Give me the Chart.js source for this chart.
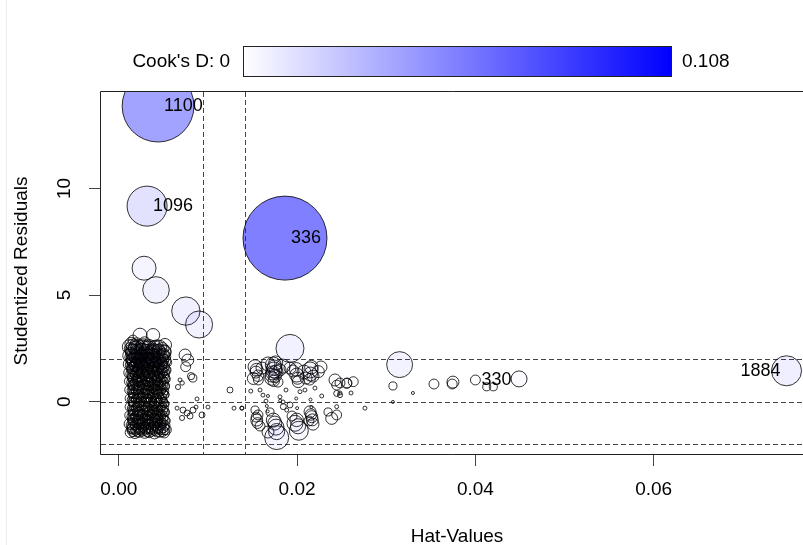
<!DOCTYPE html>
<html>
<head>
<meta charset="utf-8">
<script src="https://cdn.jsdelivr.net/npm/chart.js@4.4.1/dist/chart.umd.min.js"></script>
<style>
  html, body { margin: 0; padding: 0; background: #fff; overflow: hidden; }
</style>
</head>
<body>
<canvas id="influence" width="803" height="545"></canvas>
<script>
// Puntos: [hat value, studentized residual, Cook's D]
const labelIds = ['1100', '1096', '336', '330', '1884'];
const labelPoints = [
    [0.0044, 13.86, 0.079], [0.00317, 9.17, 0.0245], [0.01864, 7.67, 0.108],
    [0.0400, 1.02, 0.0015], [0.0749, 1.45, 0.0138]
];
const bigPoints = [
    [0.00283, 6.26, 0.0088], [0.00417, 5.24, 0.0108], [0.00752, 4.25, 0.0123], [0.0090, 3.62, 0.0112],
    [0.0192, 2.50, 0.0120], [0.0315, 1.74, 0.0103], [0.0449, 1.07, 0.0039],
    [0.01771, -1.68, 0.0088], [0.02019, -1.36, 0.0055]
];
const leftCluster = [
    [0.00159, 2.89, 0.0015], [0.00238, 3.12, 0.0030], [0.00384, 3.12, 0.0027], [0.00518, 2.66, 0.0026],
    [0.0014, 2.72, 0.0025], [0.0020, 2.68, 0.0028], [0.0029, 2.75, 0.0024], [0.0043, 2.62, 0.0022],
    [0.0013, 2.48, 0.0023], [0.0018, 2.53, 0.0025], [0.0025, 2.45, 0.0024], [0.0032, 2.55, 0.0022], [0.0041, 2.41, 0.0025], [0.0049, 2.50, 0.0021],
    [0.0014, 2.28, 0.0021], [0.0019, 2.33, 0.0022], [0.0024, 2.25, 0.0023], [0.0030, 2.31, 0.0021], [0.0036, 2.27, 0.0024], [0.0042, 2.35, 0.0020], [0.0050, 2.22, 0.0023],
    [0.0013, 2.08, 0.0019], [0.0018, 2.12, 0.0021], [0.0023, 2.05, 0.0020], [0.0029, 2.14, 0.0020], [0.0034, 2.03, 0.0021], [0.0040, 2.10, 0.0022], [0.0046, 2.07, 0.0020], [0.0052, 2.12, 0.0019],
    [0.0014, 1.91, 0.0017], [0.0019, 1.86, 0.0018], [0.0025, 1.93, 0.0019], [0.0030, 1.88, 0.0017], [0.0036, 1.95, 0.0020], [0.0041, 1.87, 0.0018], [0.0047, 1.92, 0.0018], [0.0053, 1.85, 0.0019],
    [0.0013, 1.72, 0.0016], [0.0017, 1.67, 0.0017], [0.0023, 1.74, 0.0016], [0.0028, 1.69, 0.0018], [0.0034, 1.71, 0.0017], [0.0039, 1.66, 0.0018], [0.0045, 1.73, 0.0016], [0.0051, 1.68, 0.0017],
    [0.0014, 1.52, 0.0014], [0.0020, 1.47, 0.0015], [0.0025, 1.54, 0.0014], [0.0031, 1.49, 0.0016], [0.0037, 1.51, 0.0015], [0.0042, 1.45, 0.0014], [0.0048, 1.53, 0.0016], [0.0053, 1.48, 0.0015],
    [0.0013, 1.31, 0.0013], [0.0018, 1.27, 0.0013], [0.0024, 1.33, 0.0012], [0.0029, 1.28, 0.0014], [0.0035, 1.32, 0.0013], [0.0040, 1.26, 0.0012], [0.0046, 1.30, 0.0014], [0.0052, 1.34, 0.0013],
    [0.0014, 1.12, 0.0011], [0.0019, 1.07, 0.0012], [0.0025, 1.10, 0.0011], [0.0030, 1.05, 0.0012], [0.0036, 1.13, 0.0012], [0.0042, 1.08, 0.0011], [0.0047, 1.11, 0.0012], [0.0053, 1.06, 0.0011],
    [0.0013, 0.91, 0.0009], [0.0017, 0.87, 0.0010], [0.0023, 0.93, 0.0009], [0.0028, 0.88, 0.0010], [0.0034, 0.92, 0.0010], [0.0039, 0.86, 0.0009], [0.0045, 0.90, 0.0010], [0.0051, 0.94, 0.0011],
    [0.0014, 0.71, 0.0008], [0.0020, 0.67, 0.0008], [0.0025, 0.73, 0.0009], [0.0031, 0.68, 0.0008], [0.0037, 0.72, 0.0009], [0.0042, 0.66, 0.0008], [0.0048, 0.70, 0.0009], [0.0053, 0.74, 0.0008],
    [0.0013, 0.52, 0.0007], [0.0018, 0.47, 0.0007], [0.0024, 0.53, 0.0007], [0.0029, 0.48, 0.0007], [0.0035, 0.51, 0.0008], [0.0040, 0.46, 0.0007], [0.0046, 0.54, 0.0007], [0.0052, 0.49, 0.0008],
    [0.0014, 0.31, 0.0006], [0.0019, 0.27, 0.0006], [0.0025, 0.33, 0.0006], [0.0030, 0.28, 0.0006], [0.0036, 0.32, 0.0006], [0.0041, 0.26, 0.0006], [0.0047, 0.30, 0.0006], [0.0053, 0.34, 0.0006],
    [0.0013, 0.11, 0.0006], [0.0017, 0.07, 0.0005], [0.0023, 0.12, 0.0006], [0.0028, 0.08, 0.0005], [0.0034, 0.13, 0.0006], [0.0039, 0.09, 0.0005], [0.0045, 0.10, 0.0006], [0.0051, 0.06, 0.0005],
    [0.0014, -0.09, 0.0005], [0.0020, -0.13, 0.0006], [0.0025, -0.08, 0.0005], [0.0031, -0.12, 0.0006], [0.0037, -0.10, 0.0005], [0.0042, -0.14, 0.0006], [0.0048, -0.07, 0.0005], [0.0053, -0.11, 0.0006],
    [0.0013, -0.29, 0.0006], [0.0018, -0.33, 0.0006], [0.0024, -0.28, 0.0006], [0.0029, -0.32, 0.0007], [0.0035, -0.27, 0.0006], [0.0040, -0.34, 0.0007], [0.0046, -0.30, 0.0006], [0.0052, -0.31, 0.0007],
    [0.0014, -0.51, 0.0007], [0.0019, -0.47, 0.0007], [0.0025, -0.53, 0.0008], [0.0030, -0.48, 0.0007], [0.0036, -0.52, 0.0008], [0.0041, -0.46, 0.0007], [0.0047, -0.54, 0.0008], [0.0053, -0.49, 0.0008],
    [0.0013, -0.69, 0.0008], [0.0017, -0.73, 0.0009], [0.0023, -0.68, 0.0008], [0.0028, -0.72, 0.0009], [0.0034, -0.67, 0.0008], [0.0039, -0.74, 0.0009], [0.0045, -0.70, 0.0009], [0.0051, -0.71, 0.0010],
    [0.0014, -0.91, 0.0009], [0.0020, -0.87, 0.0010], [0.0025, -0.93, 0.0010], [0.0031, -0.88, 0.0010], [0.0037, -0.92, 0.0011], [0.0042, -0.86, 0.0010], [0.0048, -0.94, 0.0011], [0.0053, -0.89, 0.0011],
    [0.0013, -1.09, 0.0011], [0.0018, -1.13, 0.0012], [0.0024, -1.08, 0.0012], [0.0029, -1.12, 0.0013], [0.0035, -1.07, 0.0012], [0.0040, -1.14, 0.0013], [0.0046, -1.10, 0.0013], [0.0052, -1.11, 0.0014],
    [0.0014, -1.29, 0.0014], [0.0019, -1.33, 0.0015], [0.0025, -1.28, 0.0015], [0.0030, -1.32, 0.0016], [0.0036, -1.27, 0.0015], [0.0041, -1.34, 0.0016], [0.0047, -1.30, 0.0016], [0.0053, -1.31, 0.0017],
    [0.0013, -1.44, 0.0017], [0.0018, -1.47, 0.0018], [0.0023, -1.42, 0.0017], [0.0029, -1.46, 0.0018], [0.0034, -1.43, 0.0018], [0.0040, -1.48, 0.0019], [0.0046, -1.41, 0.0018], [0.0051, -1.45, 0.0017]
];
const leftClusterB = [
    [0.0016, 2.61, 0.0030], [0.0022, 2.58, 0.0031], [0.0027, 2.63, 0.0029], [0.0034, 2.59, 0.0030], [0.0046, 2.56, 0.0028],
    [0.0015, 2.41, 0.0028], [0.0021, 2.38, 0.0029], [0.0027, 2.43, 0.0027], [0.0033, 2.37, 0.0028], [0.0038, 2.42, 0.0029], [0.0045, 2.39, 0.0027], [0.0051, 2.36, 0.0028],
    [0.0016, 2.19, 0.0026], [0.0021, 2.23, 0.0027], [0.0026, 2.17, 0.0025], [0.0032, 2.21, 0.0026], [0.0038, 2.18, 0.0027], [0.0044, 2.22, 0.0025], [0.0049, 2.16, 0.0026],
    [0.0015, 1.99, 0.0024], [0.0021, 2.02, 0.0025], [0.0027, 1.97, 0.0023], [0.0032, 2.01, 0.0024], [0.0038, 1.98, 0.0025], [0.0043, 2.03, 0.0023], [0.0049, 1.96, 0.0024],
    [0.0016, 1.81, 0.0022], [0.0021, 1.78, 0.0023], [0.0026, 1.82, 0.0021], [0.0031, 1.79, 0.0022], [0.0037, 1.83, 0.0023], [0.0042, 1.77, 0.0021], [0.0048, 1.80, 0.0022],
    [0.0015, 1.61, 0.0020], [0.0022, 1.58, 0.0021], [0.0028, 1.62, 0.0019], [0.0033, 1.57, 0.0020], [0.0039, 1.63, 0.0021], [0.0044, 1.59, 0.0019], [0.0050, 1.61, 0.0020],
    [0.0016, 1.41, 0.0018], [0.0021, 1.38, 0.0019], [0.0027, 1.42, 0.0017], [0.0032, 1.37, 0.0018], [0.0038, 1.43, 0.0019], [0.0043, 1.39, 0.0017], [0.0049, 1.40, 0.0018],
    [0.0015, 1.21, 0.0016], [0.0022, 1.18, 0.0017], [0.0028, 1.22, 0.0015], [0.0033, 1.17, 0.0016], [0.0039, 1.23, 0.0017], [0.0044, 1.19, 0.0015], [0.0050, 1.20, 0.0016],
    [0.0016, 1.01, 0.0014], [0.0021, 0.98, 0.0015], [0.0026, 1.02, 0.0014], [0.0032, 0.97, 0.0014], [0.0037, 1.03, 0.0015], [0.0043, 0.99, 0.0013], [0.0049, 1.00, 0.0014],
    [0.0015, 0.81, 0.0013], [0.0022, 0.78, 0.0013], [0.0027, 0.82, 0.0012], [0.0033, 0.77, 0.0013], [0.0038, 0.83, 0.0014], [0.0044, 0.79, 0.0012], [0.0050, 0.80, 0.0013],
    [0.0016, 0.61, 0.0012], [0.0021, 0.58, 0.0012], [0.0027, 0.62, 0.0011], [0.0032, 0.57, 0.0012], [0.0038, 0.63, 0.0012], [0.0043, 0.59, 0.0011], [0.0049, 0.60, 0.0012],
    [0.0015, 0.41, 0.0011], [0.0022, 0.38, 0.0011], [0.0028, 0.42, 0.0010], [0.0033, 0.37, 0.0011], [0.0039, 0.43, 0.0011], [0.0044, 0.39, 0.0010], [0.0050, 0.40, 0.0011],
    [0.0016, 0.21, 0.0010], [0.0021, 0.18, 0.0010], [0.0026, 0.22, 0.0010], [0.0032, 0.17, 0.0010], [0.0037, 0.23, 0.0010], [0.0043, 0.19, 0.0009], [0.0049, 0.20, 0.0010],
    [0.0015, 0.01, 0.0010], [0.0022, -0.02, 0.0010], [0.0027, 0.02, 0.0009], [0.0033, -0.03, 0.0010], [0.0038, 0.03, 0.0010], [0.0044, -0.01, 0.0009], [0.0050, 0.00, 0.0010],
    [0.0016, -0.19, 0.0010], [0.0021, -0.22, 0.0010], [0.0027, -0.18, 0.0010], [0.0032, -0.23, 0.0010], [0.0038, -0.17, 0.0010], [0.0043, -0.21, 0.0009], [0.0049, -0.20, 0.0010],
    [0.0015, -0.39, 0.0011], [0.0022, -0.42, 0.0011], [0.0028, -0.38, 0.0010], [0.0033, -0.43, 0.0011], [0.0039, -0.37, 0.0011], [0.0044, -0.41, 0.0010], [0.0050, -0.40, 0.0011],
    [0.0016, -0.59, 0.0012], [0.0021, -0.62, 0.0012], [0.0026, -0.58, 0.0011], [0.0032, -0.63, 0.0012], [0.0037, -0.57, 0.0012], [0.0043, -0.61, 0.0011], [0.0049, -0.60, 0.0012],
    [0.0015, -0.79, 0.0013], [0.0022, -0.82, 0.0013], [0.0027, -0.78, 0.0012], [0.0033, -0.83, 0.0013], [0.0038, -0.77, 0.0014], [0.0044, -0.81, 0.0012], [0.0050, -0.80, 0.0013],
    [0.0016, -0.99, 0.0015], [0.0021, -1.02, 0.0015], [0.0027, -0.98, 0.0014], [0.0032, -1.03, 0.0015], [0.0038, -0.97, 0.0016], [0.0043, -1.01, 0.0014], [0.0049, -1.00, 0.0015],
    [0.0015, -1.19, 0.0017], [0.0022, -1.22, 0.0017], [0.0028, -1.18, 0.0016], [0.0033, -1.23, 0.0017], [0.0039, -1.17, 0.0018], [0.0044, -1.21, 0.0016], [0.0050, -1.20, 0.0017],
    [0.0016, -1.37, 0.0019], [0.0021, -1.39, 0.0019], [0.0026, -1.36, 0.0018], [0.0032, -1.38, 0.0019], [0.0037, -1.35, 0.0020], [0.0043, -1.40, 0.0018], [0.0049, -1.37, 0.0019]
];
const leftClusterC = [
    [0.0012, 2.57, 0.0032], [0.0019, 2.53, 0.0033], [0.0026, 2.56, 0.0031], [0.0033, 2.52, 0.0032], [0.0040, 2.55, 0.0030],
    [0.0016, 2.36, 0.0030], [0.0023, 2.33, 0.0031], [0.0030, 2.37, 0.0029], [0.0037, 2.34, 0.0030], [0.0044, 2.36, 0.0029], [0.0051, 2.32, 0.0028],
    [0.0012, 2.16, 0.0028], [0.0019, 2.13, 0.0029], [0.0026, 2.17, 0.0027], [0.0033, 2.14, 0.0028], [0.0040, 2.16, 0.0027], [0.0047, 2.12, 0.0028],
    [0.0016, 1.96, 0.0026], [0.0023, 1.93, 0.0027], [0.0030, 1.97, 0.0025], [0.0037, 1.94, 0.0026], [0.0044, 1.96, 0.0025], [0.0051, 1.92, 0.0026],
    [0.0012, 1.76, 0.0024], [0.0019, 1.73, 0.0025], [0.0026, 1.77, 0.0023], [0.0033, 1.74, 0.0024], [0.0040, 1.76, 0.0023], [0.0047, 1.72, 0.0024],
    [0.0016, 1.56, 0.0022], [0.0023, 1.53, 0.0023], [0.0030, 1.57, 0.0021], [0.0037, 1.54, 0.0022], [0.0044, 1.56, 0.0021], [0.0051, 1.52, 0.0022],
    [0.0012, 1.36, 0.0020], [0.0019, 1.33, 0.0021], [0.0026, 1.37, 0.0019], [0.0033, 1.34, 0.0020], [0.0040, 1.36, 0.0019], [0.0047, 1.32, 0.0020],
    [0.0016, 1.16, 0.0018], [0.0023, 1.13, 0.0019], [0.0030, 1.17, 0.0017], [0.0037, 1.14, 0.0018], [0.0044, 1.16, 0.0017], [0.0051, 1.12, 0.0018],
    [0.0012, 0.96, 0.0016], [0.0019, 0.93, 0.0017], [0.0026, 0.97, 0.0015], [0.0033, 0.94, 0.0016], [0.0040, 0.96, 0.0015], [0.0047, 0.92, 0.0016],
    [0.0016, 0.76, 0.0015], [0.0023, 0.73, 0.0015], [0.0030, 0.77, 0.0014], [0.0037, 0.74, 0.0015], [0.0044, 0.76, 0.0014], [0.0051, 0.72, 0.0015],
    [0.0012, 0.56, 0.0014], [0.0019, 0.53, 0.0014], [0.0026, 0.57, 0.0013], [0.0033, 0.54, 0.0014], [0.0040, 0.56, 0.0013], [0.0047, 0.52, 0.0014],
    [0.0016, 0.36, 0.0013], [0.0023, 0.33, 0.0013], [0.0030, 0.37, 0.0012], [0.0037, 0.34, 0.0013], [0.0044, 0.36, 0.0012], [0.0051, 0.32, 0.0013],
    [0.0012, 0.16, 0.0012], [0.0019, 0.13, 0.0012], [0.0026, 0.17, 0.0012], [0.0033, 0.14, 0.0012], [0.0040, 0.16, 0.0011], [0.0047, 0.12, 0.0012],
    [0.0016, -0.04, 0.0012], [0.0023, -0.07, 0.0012], [0.0030, -0.03, 0.0012], [0.0037, -0.06, 0.0012], [0.0044, -0.04, 0.0011], [0.0051, -0.08, 0.0012],
    [0.0012, -0.24, 0.0012], [0.0019, -0.27, 0.0012], [0.0026, -0.23, 0.0012], [0.0033, -0.26, 0.0012], [0.0040, -0.24, 0.0011], [0.0047, -0.28, 0.0012],
    [0.0016, -0.44, 0.0013], [0.0023, -0.47, 0.0013], [0.0030, -0.43, 0.0012], [0.0037, -0.46, 0.0013], [0.0044, -0.44, 0.0012], [0.0051, -0.48, 0.0013],
    [0.0012, -0.64, 0.0014], [0.0019, -0.67, 0.0014], [0.0026, -0.63, 0.0013], [0.0033, -0.66, 0.0014], [0.0040, -0.64, 0.0013], [0.0047, -0.68, 0.0014],
    [0.0016, -0.84, 0.0016], [0.0023, -0.87, 0.0016], [0.0030, -0.83, 0.0015], [0.0037, -0.86, 0.0016], [0.0044, -0.84, 0.0015], [0.0051, -0.88, 0.0016],
    [0.0012, -1.04, 0.0018], [0.0019, -1.07, 0.0018], [0.0026, -1.03, 0.0017], [0.0033, -1.06, 0.0018], [0.0040, -1.04, 0.0017], [0.0047, -1.08, 0.0018],
    [0.0016, -1.24, 0.0020], [0.0023, -1.27, 0.0020], [0.0030, -1.23, 0.0019], [0.0037, -1.26, 0.0020], [0.0044, -1.24, 0.0019], [0.0051, -1.28, 0.0020]
];
const leftFringe = [
    [0.00773, 1.95, 0.0022], [0.0075, 1.64, 0.0015], [0.00743, 2.19, 0.0022], [0.0083, 1.11, 0.0010],
    [0.0081, 1.20, 0.0008], [0.00687, 1.02, 0.00024], [0.00664, 0.69, 0.0004], [0.0071, 0.88, 0.0003],
    [0.00877, 0.13, 0.00024], [0.00866, -0.25, 0.00024], [0.0100, -0.25, 0.00024], [0.00653, -0.30, 0.00024],
    [0.00765, -0.53, 0.00055], [0.00799, -0.67, 0.00055], [0.00933, -0.62, 0.00055], [0.00709, -0.76, 0.0004],
    [0.0072, -0.39, 0.00055], [0.00832, -0.39, 0.00055], [0.01247, 0.55, 0.00055], [0.01292, -0.30, 0.00024],
    [0.01382, -0.30, 0.00024]
];
const rightCluster = [
    [0.01528, 1.64, 0.0030], [0.01509, 1.09, 0.0022], [0.01565, 1.02, 0.0015], [0.01539, 1.39, 0.0022],
    [0.01606, 1.58, 0.0022], [0.01673, 1.77, 0.0030], [0.01733, 1.72, 0.0039], [0.01741, 1.49, 0.0039],
    [0.01718, 1.25, 0.0030], [0.01763, 1.39, 0.0030], [0.01715, 1.10, 0.0030], [0.01808, 1.49, 0.0022],
    [0.01842, 1.67, 0.0030], [0.01786, 0.92, 0.0015], [0.01920, 1.58, 0.0022], [0.01996, 1.25, 0.0030],
    [0.02013, 0.94, 0.0022], [0.01954, 1.44, 0.0022], [0.02077, 1.39, 0.0030], [0.02145, 1.49, 0.0039],
    [0.02100, 1.11, 0.0022], [0.02178, 1.20, 0.0022], [0.02238, 1.41, 0.0022], [0.02268, 1.63, 0.0022],
    [0.02425, 1.02, 0.0022], [0.02444, 0.78, 0.0015], [0.02556, 0.86, 0.0015], [0.02630, 0.94, 0.0015],
    [0.01745, 1.60, 0.0035], [0.01728, 1.35, 0.0030], [0.01752, 1.20, 0.0025], [0.01738, 0.98, 0.0020],
    [0.01760, 1.82, 0.0030], [0.01990, 1.52, 0.0028], [0.02005, 1.10, 0.0022], [0.02150, 1.30, 0.0030],
    [0.02160, 1.62, 0.0028], [0.02140, 1.05, 0.0020], [0.01545, 1.50, 0.0025], [0.01560, 1.22, 0.0020],
    [0.0148, 0.50, 0.00024], [0.01584, 0.55, 0.00024], [0.01617, 0.31, 0.00024], [0.01651, 0.03, 0.00024],
    [0.01673, 0.27, 0.00014], [0.01808, 0.23, 0.00024], [0.01842, -0.01, 0.00024], [0.01875, 0.55, 0.00024],
    [0.02032, 0.47, 0.00024], [0.02088, 0.55, 0.00024], [0.02200, 0.64, 0.00024], [0.02276, 0.27, 0.00024],
    [0.02444, 0.39, 0.00055], [0.02481, 0.31, 0.0004], [0.02444, -0.23, 0.00024], [0.01379, -0.30, 0.00024],
    [0.0166, -0.20, 0.00014], [0.0167, -0.45, 0.00014], [0.0181, 0.05, 0.00014], [0.0199, 0.15, 0.00014],
    [0.0200, -0.30, 0.00014], [0.0215, 0.10, 0.00014], [0.0216, -0.25, 0.00014],
    [0.01547, -0.86, 0.0022], [0.01561, -0.62, 0.0015], [0.01528, -0.39, 0.0010], [0.01584, -1.14, 0.0015],
    [0.01733, -0.86, 0.0030], [0.01696, -0.48, 0.0010], [0.01763, -1.19, 0.0039], [0.01673, -1.42, 0.0022],
    [0.01845, -0.23, 0.00055], [0.01920, -0.15, 0.00055], [0.01883, -0.39, 0.00024], [0.01976, -1.01, 0.0039],
    [0.01943, -0.67, 0.0015], [0.02145, -0.47, 0.0022], [0.02164, -0.70, 0.0022], [0.02133, -0.90, 0.0015],
    [0.02178, -1.05, 0.0022], [0.02388, -0.78, 0.0022], [0.02444, -0.62, 0.0015], [0.02347, -0.48, 0.0010],
    [0.01750, -1.00, 0.0030], [0.01770, -1.40, 0.0040], [0.01995, -0.85, 0.0028], [0.02010, -1.15, 0.0035],
    [0.02155, -0.60, 0.0020], [0.02170, -0.85, 0.0022], [0.01555, -1.00, 0.0018], [0.01540, -0.72, 0.0015]
];
const farPoints = [
    [0.02481, 0.88, 0.0015], [0.0256, 0.88, 0.0015], [0.03075, 0.74, 0.0010], [0.03299, 0.41, 0.00014],
    [0.03535, 0.83, 0.0015], [0.03748, 0.92, 0.0022], [0.03740, 0.83, 0.0015], [0.02761, -0.30, 0.00024],
    [0.02481, 0.41, 0.00024], [0.02605, 0.41, 0.00024], [0.03075, -0.01, 0.00014],
    [0.04127, 0.70, 0.0010], [0.04201, 0.70, 0.0010]
];

const xTicks = [0, 0.02, 0.04, 0.06];
const yTicks = [0, 5, 10];
const hatCutoffs = [0.00947, 0.01418];
const residCutoffs = [-2, 0, 2];
const cookRange = [0, 0.108];

const allPoints = [...leftCluster, ...leftClusterB, ...leftClusterC, ...leftFringe, ...rightCluster, ...farPoints, ...bigPoints, ...labelPoints];
const labelStart = allPoints.length - labelPoints.length;

const FONT = '"Liberation Sans", Arial, sans-serif';

const decor = {
    id: 'decor',
    beforeDatasetsDraw(chart) {
        const { ctx, chartArea: a, scales: { x, y } } = chart;
        ctx.save();
        ctx.strokeStyle = '#444';
        ctx.lineWidth = 1;
        ctx.setLineDash([5, 3]);
        hatCutoffs.forEach(v => {
            const px = Math.round(x.getPixelForValue(v)) + 0.5;
            ctx.beginPath(); ctx.moveTo(px, a.top); ctx.lineTo(px, a.bottom); ctx.stroke();
        });
        residCutoffs.forEach(v => {
            const py = Math.round(y.getPixelForValue(v)) + 0.5;
            ctx.beginPath(); ctx.moveTo(a.left, py); ctx.lineTo(a.right, py); ctx.stroke();
        });
        ctx.restore();
    },
    afterDatasetsDraw(chart) {
        const { ctx, chartArea: a, scales: { x, y } } = chart;
        const meta = chart.getDatasetMeta(0);
        ctx.save();
        ctx.fillStyle = '#000';
        ctx.font = '18px ' + FONT;
        ctx.textBaseline = 'middle';
        labelIds.forEach((id, i) => {
            const el = meta.data[labelStart + i];
            if (el.x > a.right - 60) {
                ctx.textAlign = 'right';
                ctx.fillText(id, el.x - 6, el.y);
            } else {
                ctx.textAlign = 'left';
                ctx.fillText(id, el.x + 6, el.y);
            }
        });

        // caja del gráfico (lado derecho fuera de la imagen)
        ctx.strokeStyle = '#222';
        ctx.lineWidth = 1;
        ctx.beginPath();
        ctx.moveTo(a.right + 5, a.top - 0.5);
        ctx.lineTo(a.left - 0.5, a.top - 0.5);
        ctx.lineTo(a.left - 0.5, a.bottom + 0.5);
        ctx.lineTo(a.right + 5, a.bottom + 0.5);
        ctx.stroke();

        // etiquetas de los ejes
        ctx.font = '19px ' + FONT;
        ctx.textAlign = 'center';
        xTicks.forEach(v => {
            ctx.fillText(v.toFixed(2), x.getPixelForValue(v), 490);
        });
        yTicks.forEach(v => {
            ctx.save();
            ctx.translate(65, y.getPixelForValue(v));
            ctx.rotate(-Math.PI / 2);
            ctx.fillText(String(v), 0, 0);
            ctx.restore();
        });
        ctx.fillText('Hat-Values', 457, 537);
        ctx.save();
        ctx.translate(22, 271);
        ctx.rotate(-Math.PI / 2);
        ctx.fillText('Studentized Residuals', 0, 0);
        ctx.restore();

        // leyenda de Cook's D
        const bx = 243, by = 46, bw = 428, bh = 30;
        const grad = ctx.createLinearGradient(bx, 0, bx + bw, 0);
        grad.addColorStop(0, '#ffffff');
        grad.addColorStop(1, '#0000ff');
        ctx.fillStyle = grad;
        ctx.fillRect(bx, by, bw, bh);
        ctx.strokeStyle = '#222';
        ctx.strokeRect(bx + 0.5, by + 0.5, bw, bh);
        ctx.fillStyle = '#000';
        ctx.textAlign = 'right';
        ctx.fillText("Cook's D: " + cookRange[0], 230, by + bh / 2 + 1);
        ctx.textAlign = 'left';
        ctx.fillText(String(cookRange[1]), 682, by + bh / 2 + 1);

        // borde tenue a la izquierda
        ctx.strokeStyle = '#ececec';
        ctx.beginPath(); ctx.moveTo(6.5, 0); ctx.lineTo(6.5, 545); ctx.stroke();
        ctx.restore();
    }
};

new Chart(document.getElementById('influence'), {
    type: 'bubble',
    data: {
        datasets: [{
            data: allPoints.map(p => ({ x: p[0], y: p[1], r: Math.max(1.5, 42 * Math.sqrt(p[2] / cookRange[1])), d: p[2] })),
            backgroundColor: ctx => 'rgba(0,0,255,' + (0.5 * ctx.raw.d / cookRange[1]).toFixed(3) + ')',
            borderColor: 'rgba(0,0,0,0.8)',
            borderWidth: 1,
            clip: 0
        }]
    },
    options: {
        responsive: false,
        animation: false,
        events: [],
        layout: { autoPadding: false, padding: { top: 92, left: 0, right: 0, bottom: 0 } },
        plugins: { legend: { display: false }, tooltip: { enabled: false } },
        scales: {
            x: {
                type: 'linear',
                min: -0.0020,
                max: 0.07675,
                afterBuildTicks: s => { s.ticks = xTicks.map(v => ({ value: v })); },
                afterFit: s => { s.height = 91; },
                ticks: { display: false },
                grid: { drawOnChartArea: false, drawTicks: true, tickLength: 12, color: '#444' },
                border: { display: false }
            },
            y: {
                type: 'linear',
                min: -2.45,
                max: 14.52,
                afterBuildTicks: s => { s.ticks = yTicks.map(v => ({ value: v })); },
                afterFit: s => { s.width = 101; },
                ticks: { display: false },
                grid: { drawOnChartArea: false, drawTicks: true, tickLength: 12, color: '#444' },
                border: { display: false }
            }
        }
    },
    plugins: [decor]
});
</script>
</body>
</html>
